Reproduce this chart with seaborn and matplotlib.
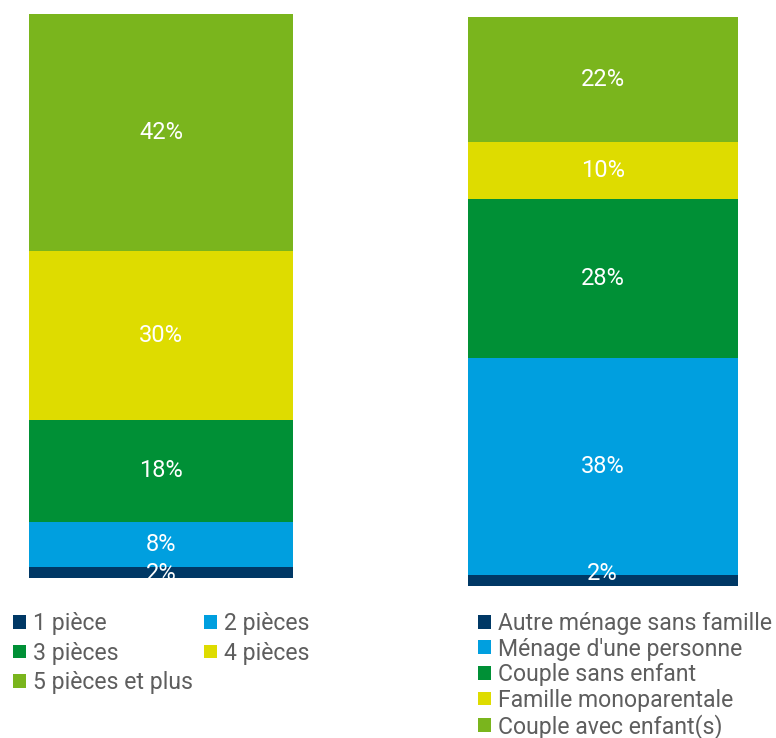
import matplotlib
matplotlib.use("Agg")
import matplotlib.pyplot as plt
import seaborn as sns
from matplotlib.patches import Patch

# left bar: number of rooms
rooms_labels = ["1 pièce", "2 pièces", "3 pièces", "4 pièces", "5 pièces et plus"]
rooms_values = [2, 8, 18, 30, 42]

# right bar: household type
hh_labels = ["Autre ménage sans famille", "Ménage d'une personne", "Couple sans enfant",
             "Famille monoparentale", "Couple avec enfant(s)"]
hh_values = [2, 38, 28, 10, 22]

colors = ["#003865", "#009fdf", "#009036", "#dedc00", "#7ab51d"]

sns.set_style("white")
plt.rcParams["font.family"] = ["Roboto", "DejaVu Sans"]

fig = plt.figure(figsize=(7.76, 7.38), dpi=100)
ax1 = fig.add_axes([29 / 776, 1 - 578 / 738, 264 / 776, 564.5 / 738])
ax2 = fig.add_axes([467.5 / 776, 1 - 586 / 738, 270.5 / 776, 569 / 738])


def stacked(ax, values, small_shift=0):
    bottom = 0
    for v, c in zip(values, colors):
        sns.barplot(x=[0], y=[v], bottom=bottom, color=c, width=1.0,
                    saturation=1, edgecolor="none", linewidth=0, ax=ax)
        # tiny segments: label gets nudged up a bit, like the original
        shift = small_shift if v < 5 else 0
        ax.annotate(f"{v}%", (0, bottom + v / 2), xytext=(0, shift),
                    textcoords="offset points", ha="center", va="center",
                    color="white", fontsize=17, annotation_clip=False,
                    clip_on=True)
        bottom += v
    ax.set_xlim(-0.5, 0.5)
    ax.set_ylim(0, 100)
    ax.axis("off")


stacked(ax1, rooms_values, small_shift=-1)
stacked(ax2, hh_values, small_shift=5)

handles = [Patch(facecolor=c, edgecolor="none") for c in colors]
leg_kw = dict(loc="upper left", frameon=False, fontsize=16.6, labelcolor="#5e5e5e",
              handlelength=0.55, handleheight=0.55, handletextpad=0.3,
              borderaxespad=0, borderpad=0)

order = [0, 2, 4, 1, 3]
fig.legend([handles[i] for i in order], [rooms_labels[i] for i in order],
           bbox_to_anchor=(13 / 776, 1 - 612 / 738), ncol=2,
           labelspacing=0.29, columnspacing=0.5, **leg_kw)

fig.legend(handles, hh_labels, bbox_to_anchor=(478 / 776, 1 - 612 / 738),
           labelspacing=0.11, **leg_kw)

fig.savefig("out.png", dpi=100)
